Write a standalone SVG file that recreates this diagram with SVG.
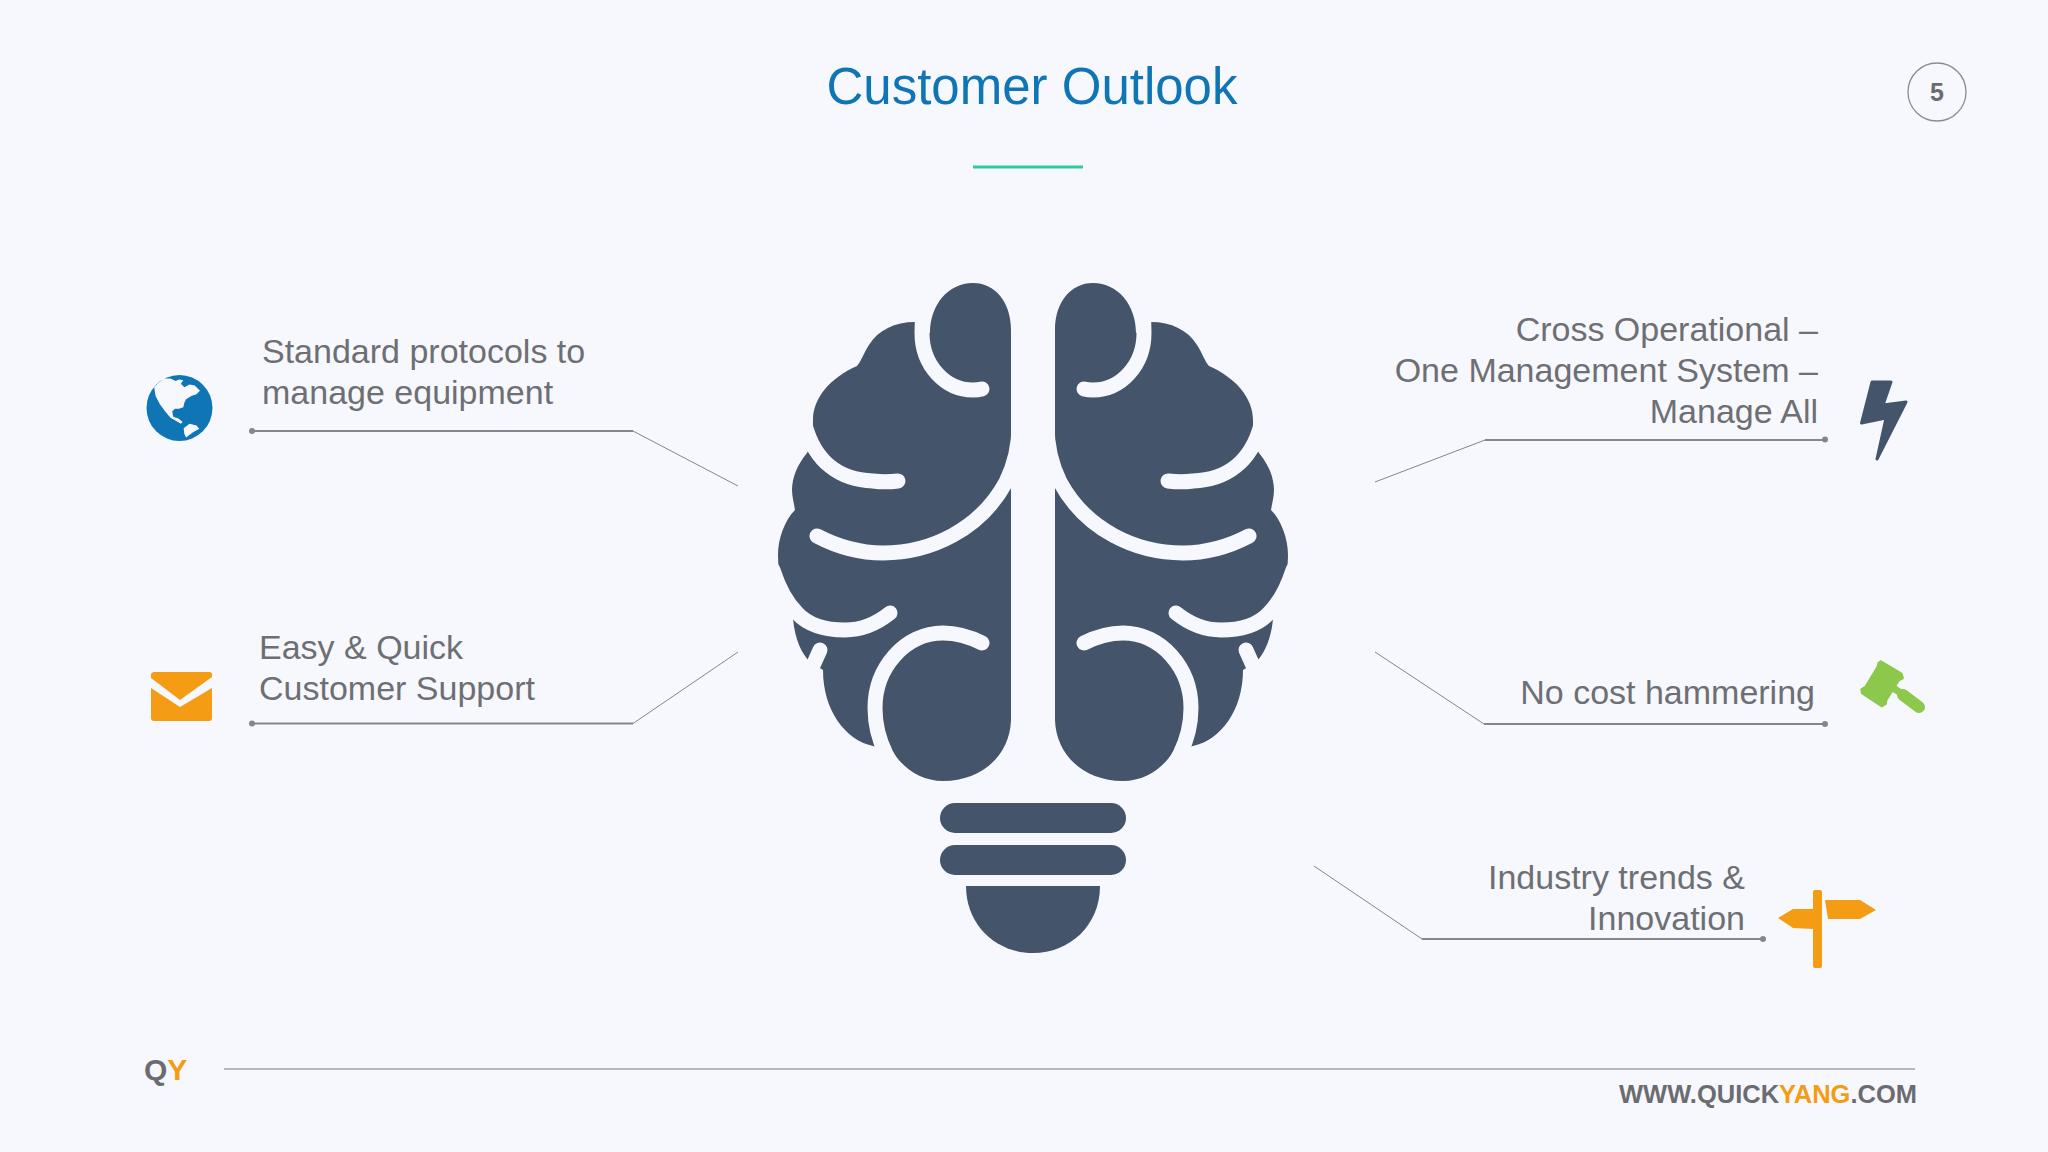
<svg xmlns="http://www.w3.org/2000/svg" xmlns:xlink="http://www.w3.org/1999/xlink" width="2048" height="1152" viewBox="0 0 2048 1152">
<style>
.t{font-family:"Liberation Sans",Arial,sans-serif;font-size:34px;fill:#6e6f74}
.e{text-anchor:end}
.b{font-family:"Liberation Sans",Arial,sans-serif;font-weight:700;fill:#6b6c70}
.o{fill:#f39c14}
.c{fill:none;stroke:#85868c;stroke-width:1}
.h{fill:none;stroke:#85868c;stroke-width:1.800}
.d{fill:#85868c}
.w{fill:none;stroke:#f7f8fd;stroke-width:15;stroke-linecap:round}
.k{fill:#44546a}
.g{fill:#8cc84b}
</style>
<defs>
<g id="half">
<path class="k" d="M1011 720V330C1011 302 995 283 973 283C948 283 930 305 930 333L915 322C895 322 878 330 869 345C864 352 862 360 857 366C830 378 813 398 813 420C813 432 812 445 807 453C797 465 792 478 792 490C792 497 794 503 795 510C785 520 778 538 778 555C778 575 783 590 790 600L793 619C795 640 802 654 810 662L823 670C823 710 845 740 873 746L893 752C903 768 921 781 943 781C982 781 1010 755 1011 720Z"/>
<path class="w" d="M982 389C978 390 976 390 973 390C945 390 922 365 922 333C922 328 922 322 923 312"/>
<path class="w" d="M898 481C890 482 880 482 873 481C840 480 815 462 805 425"/>
<path class="w" d="M817 536C838 547 860 553 883 553C930 553 980 530 1006 482C1014 466 1019 445 1019 425"/>
<path class="w" d="M890 613C875 625 860 630 845 630C825 630 808 625 797 613C790 606 781 595 773 570"/>
<path class="w" d="M820 650L811 670"/>
<path class="w" d="M982 643C968 636 955 633 943 633C905 633 875 668 875 708C875 728 880 742 886 754C889 760 894 768 899 776"/>
</g>
</defs>
<rect width="2048" height="1152" fill="#f7f8fd"/>
<g id="title">
<text x="1032" y="104" text-anchor="middle" style="font-family:'Liberation Sans',Arial,sans-serif;font-size:51px;fill:#0f75b5">Customer Outlook</text>
<rect x="973" y="165.500" width="110" height="3" fill="#2fc9a2"/>
</g>
<g id="page-number">
<circle cx="1937" cy="92" r="29" fill="none" stroke="#8b8c91" stroke-width="1.300"/>
<text x="1937" y="101" text-anchor="middle" class="b" font-size="25">5</text>
</g>
<g id="brain">
<use xlink:href="#half" href="#half"/>
<use xlink:href="#half" href="#half" transform="matrix(-1 0 0 1 2066 0)"/>
<rect class="k" x="940" y="803" width="186" height="30" rx="15"/>
<rect class="k" x="940" y="845" width="186" height="30" rx="15"/>
<path class="k" d="M966 886H1100C1100 925 1070 953 1033 953C996 953 966 925 966 886Z"/>
</g>
<g id="connectors">
<path class="h" d="M252 431H633"/><path class="c" d="M633 431L738 486"/><circle class="d" cx="252" cy="431" r="3"/>
<path class="h" d="M252 723.500H633"/><path class="c" d="M633 723.500L738 652"/><circle class="d" cx="252" cy="723.500" r="3"/>
<path class="h" d="M1825 440H1485"/><path class="c" d="M1485 440L1375 482"/><circle class="d" cx="1825" cy="439.500" r="3"/>
<path class="h" d="M1825 724H1484"/><path class="c" d="M1484 724L1375 652"/><circle class="d" cx="1825" cy="724" r="3"/>
<path class="h" d="M1763 939H1422"/><path class="c" d="M1422 939L1314 866"/><circle class="d" cx="1763" cy="939" r="3"/>
</g>
<g id="node-protocols">
<circle cx="179.500" cy="408" r="33" fill="#0f75b5"/>
<g fill="#f7f8fd" transform="matrix(.347 0 0 .347 137.500 366.400)">
<path d="M48 60L60 48L75 35L95 35L110 42L120 38L132 40L125 50L135 60L150 52L165 55L180 70L170 80L155 85L140 95L135 105L132 118L120 122L108 122L100 130L103 145L118 150L130 160L125 165L108 155L95 148L80 130L65 110L52 85Z"/>
<path d="M133 178L150 165L170 170L178 180L160 190L140 205L135 195Z"/>
<path d="M105 124L128 122L132 128L115 132Z" fill="#0f75b5"/>
</g>
<text class="t" x="262" y="362.500">Standard protocols to</text>
<text class="t" x="262" y="404">manage equipment</text>
</g>
<g id="node-support">
<path class="o" d="M154 672H209Q213 672 212 677L180 700L151 678Q150 672 154 672Z"/>
<path class="o" d="M151 688L180 707L212 688V718Q212 721 209 721H154Q151 721 151 718Z"/>
<text class="t" x="259" y="659">Easy &amp; Quick</text>
<text class="t" x="259" y="700">Customer Support</text>
</g>
<g id="node-operational">
<path d="M1872 382H1891L1883 405L1906 402L1877 459L1886 418L1861.500 423Z" fill="#44546a" stroke="#44546a" stroke-width="3" stroke-linejoin="round"/>
<text class="t e" x="1818" y="341">Cross Operational –</text>
<text class="t e" x="1818" y="382">One Management System –</text>
<text class="t e" x="1818" y="423">Manage All</text>
</g>
<g id="node-hammering">
<path class="g" d="M1880.700 661L1901.700 673.300L1903.300 678.300L1899 680.700L1886.700 700L1886 704L1881.700 706.700L1861.700 693.300L1861 689.300L1865.700 686L1877.300 666.700L1878.300 662.700Z" stroke="#8cc84b" stroke-width="1.500" stroke-linejoin="round"/>
<path d="M1890 686L1904 695" fill="none" stroke="#8cc84b" stroke-width="7"/>
<path d="M1903 695L1919 707" fill="none" stroke="#8cc84b" stroke-width="12" stroke-linecap="round"/>
<text class="t e" x="1815" y="704">No cost hammering</text>
</g>
<g id="node-trends">
<rect class="o" x="1813" y="890" width="9" height="78" rx="2"/>
<path class="o" d="M1825 900H1860L1876 910L1860 919H1828Z"/>
<path class="o" d="M1813 909H1793L1778 918L1793 928L1813 929Z"/>
<text class="t e" x="1745" y="889">Industry trends &amp;</text>
<text class="t e" x="1745" y="930">Innovation</text>
</g>
<g id="footer">
<text x="144" y="1080" class="b" font-size="30">Q<tspan class="o">Y</tspan></text>
<path d="M224 1069H1915" fill="none" stroke="#a0a1a6" stroke-width="1.600"/>
<text x="1917" y="1103" text-anchor="end" class="b" font-size="25.500">WWW.QUICK<tspan class="o">YANG</tspan>.COM</text>
</g>
</svg>
